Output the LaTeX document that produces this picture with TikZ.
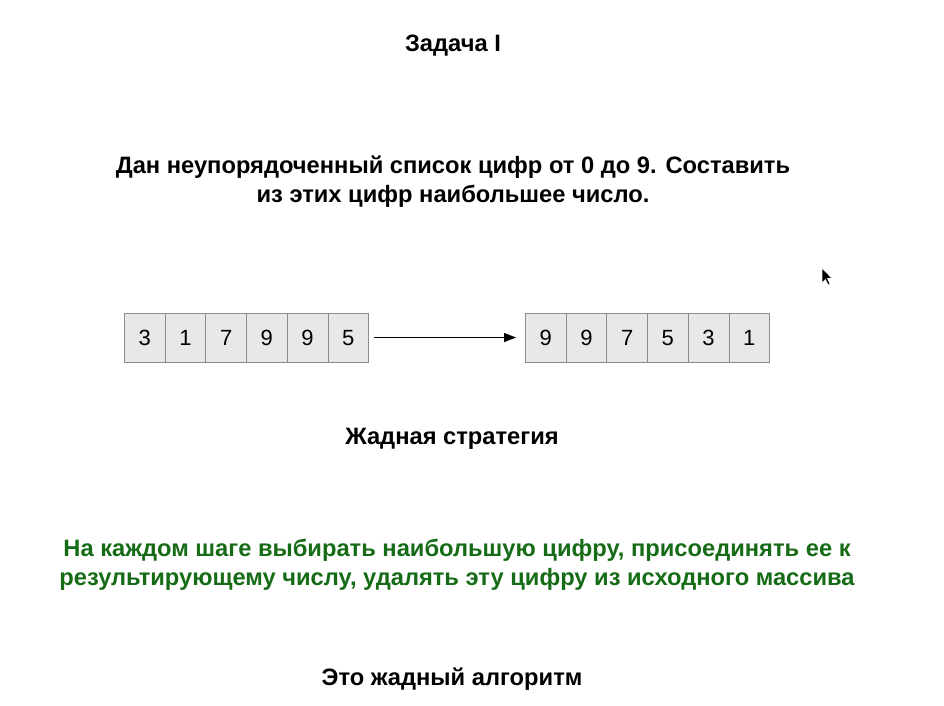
\documentclass[tikz,border=0pt]{standalone}
\usepackage{fontspec}
\setmainfont{Liberation Sans}
\usetikzlibrary{arrows.meta}
\definecolor{cellfill}{RGB}{232,232,232}
\definecolor{celldraw}{RGB}{140,140,140}
\definecolor{greentext}{RGB}{22,108,22}
\begin{document}
\begin{tikzpicture}[x=1pt,y=-1pt,
  cell/.style={draw=celldraw,fill=cellfill,line width=0.8pt,minimum width=40.7pt,minimum height=49pt,inner sep=0pt,text height=16pt,text depth=0pt,anchor=west,font=\fontsize{22}{24}\selectfont},
  heading/.style={font=\fontsize{23.7}{29}\selectfont\bfseries,align=center},
  greenline/.style={heading,text=greentext}]
\useasboundingbox (0,0) rectangle (944,705);
\node[heading] (title) at (453,46) {Задача I};
\node[heading] (task) at (453,182) {Дан неупорядоченный список цифр от 0 до 9. Составить\\из этих цифр наибольшее число.};
% left array
\foreach \d [count=\i from 0] in {3,1,7,9,9,5}{
  \node[cell] (L\i) at ({124+\i*40.7},337.5) {\d};
}
\foreach \d [count=\i from 0] in {9,9,7,5,3,1}{
  \node[cell] (R\i) at ({525+\i*40.7},337.5) {\d};
}
\draw[-{Stealth[length=12pt,width=9pt,inset=0pt]},line width=1.3pt] ([xshift=5pt]L5.east) -- ([xshift=-9pt]R0.west);
\node[heading] (strategy) at (452,439) {Жадная стратегия};
\node[greenline] (greedy) at (457,565) {На каждом шаге выбирать наибольшую цифру, присоединять ее к\\результирующему числу, удалять эту цифру из исходного массива};
\node[heading] (algo) at (452,679) {Это жадный алгоритм};
% mouse cursor
\fill[black,draw=white,line width=0.6pt] (822,268) -- (822,283) -- (825.5,279.5) -- (828,285) -- (830,284) -- (827.5,278.5) -- (832,278.5) -- cycle;
\end{tikzpicture}
\end{document}
